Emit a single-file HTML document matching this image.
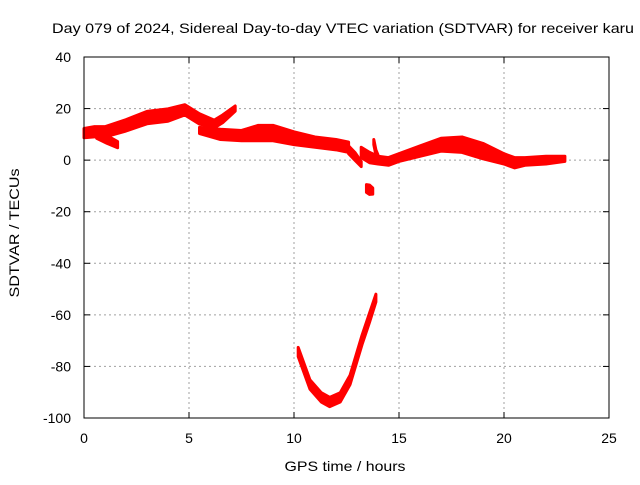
<!DOCTYPE html>
<html><head><meta charset="utf-8"><style>
body{margin:0;background:#fff;font-family:"Liberation Sans",sans-serif}
svg text{font-family:"Liberation Sans",sans-serif;font-size:14px;fill:#000}
</style></head><body>
<svg width="640" height="480" id="c">
<text x="52" y="33" textLength="582" lengthAdjust="spacingAndGlyphs">Day 079 of 2024, Sidereal Day-to-day VTEC variation (SDTVAR) for receiver karu</text>
<text x="345" y="471" text-anchor="middle" textLength="121" lengthAdjust="spacingAndGlyphs">GPS time / hours</text>
<text transform="translate(19,233) rotate(-90)" text-anchor="middle" textLength="129" lengthAdjust="spacingAndGlyphs">SDTVAR / TECUs</text>
<g id="grid"></g><g id="marks"></g>
<rect x="84" y="57" width="525" height="361" fill="none" stroke="#000" stroke-width="1"/>
<g id="ticks"></g>
</svg>
<script>
const xTicks=[0,5,10,15,20,25];
const yTicks=[40,20,0,-20,-40,-60,-80,-100];
// bands: times, centers, half-widths
const segA_t=[0,0.5,1,2,3,4,4.8,5.5,6.2,6.6,7.2];
const segA_v=[10.5,11,11,13.5,16.5,17.5,19.5,16,14,16,20];
const segA_w=[1.8,2,2,2.2,2.4,2.4,2,2,1.5,1.5,1];
const segBr_t=[0.6,1.1,1.6];
const segBr_v=[10,8,6];
const segBr_w=[1.5,1.5,1.2];
const segB_t=[5.5,6.5,7.5,8.3,9,10,11,12,12.6];
const segB_v=[11.5,10,9.5,10.5,10.5,8.5,7,6,5];
const segB_w=[1.2,2,2,3,3,2.5,2,2,2];
const segD_t=[12.6,12.9,13.2];
const segD_v=[4,1.5,-1.5];
const segD_w=[1.5,1.5,1];
const segC_t=[13.2,13.6,14,14.5,15,16,17,18,19,20,20.5,21,22,22.9];
const segC_v=[3,1,0,-0.5,1,3.5,6,6,3.5,0.5,-1,-0.5,0,0.5];
const segC_w=[2,2,1.5,1.5,1.5,2,2.5,3,3,2,2,1.5,1.5,1];
const segS_t=[13.8,13.9,14.0];
const segS_v=[7,3,1];
const segS_w=[1,1,1];
const segO_t=[13.45,13.6,13.75];
const segO_v=[-11,-11.5,-12];
const segO_w=[1.5,1.8,1.2];
const segU_t=[10.2,10.76,11.3,11.7,12.2,12.67,13.24,13.6,13.9];
const segU_v=[-74.4,-87,-92,-93.8,-92,-85.2,-69.7,-61,-53.5];
const segU_w=[1.8,1.8,1.8,1.8,1.8,1.8,1.8,1.8,1.5];
const X=t=>84+t*21, Y=v=>57+(40-v)*361/140;
const NS='http://www.w3.org/2000/svg';
const g=document.getElementById('grid'),tk=document.getElementById('ticks'),mk=document.getElementById('marks');
function el(n,a,p){const e=document.createElementNS(NS,n);for(const k in a)e.setAttribute(k,a[k]);p.appendChild(e);return e;}
xTicks.forEach(t=>{
 if(t>0&&t<25){const l=el('line',{x1:X(t),x2:X(t),y1:57,y2:418,stroke:'#a0a0a0','stroke-dasharray':'2,3'},g);
 
 }
 el('line',{x1:X(t),x2:X(t),y1:418,y2:412,stroke:'#000'},tk);el('line',{x1:X(t),x2:X(t),y1:57,y2:63,stroke:'#000'},tk);
 const tx=el('text',{x:X(t),y:443,'text-anchor':'middle'},tk);tx.textContent=t;
 
 
});
yTicks.forEach(v=>{
 if(v<40&&v>-100){const l=el('line',{x1:84,x2:609,y1:Y(v),y2:Y(v),stroke:'#a0a0a0','stroke-dasharray':'2,3'},g);
 
 }
 el('line',{x1:84,x2:90,y1:Y(v),y2:Y(v),stroke:'#000'},tk);el('line',{x1:609,x2:603,y1:Y(v),y2:Y(v),stroke:'#000'},tk);
 const tx=el('text',{x:71,y:Y(v)+5,'text-anchor':'end'},tk);tx.textContent=v;
 
 
});
function band(ts,vs,ws,name){
 const up=ts.map((t,i)=>X(t)+','+Y(vs[i]+ws[i]));
 const dn=ts.map((t,i)=>X(t)+','+Y(vs[i]-ws[i])).reverse();
 const p=el('polygon',{points:up.concat(dn).join(' '),fill:'#ff0000',stroke:'#ff0000','stroke-width':3,'stroke-linejoin':'round'},mk);
 
 
}
band(segA_t,segA_v,segA_w,'series-band-early');
band(segBr_t,segBr_v,segBr_w,'series-branch');
band(segB_t,segB_v,segB_w,'series-band-mid');
band(segD_t,segD_v,segD_w,'series-dip');
band(segC_t,segC_v,segC_w,'series-band-late');
band(segS_t,segS_v,segS_w,'series-spike');
band(segO_t,segO_v,segO_w,'series-outlier');
band(segU_t,segU_v,segU_w,'series-u-curve');
</script>
</body></html>
